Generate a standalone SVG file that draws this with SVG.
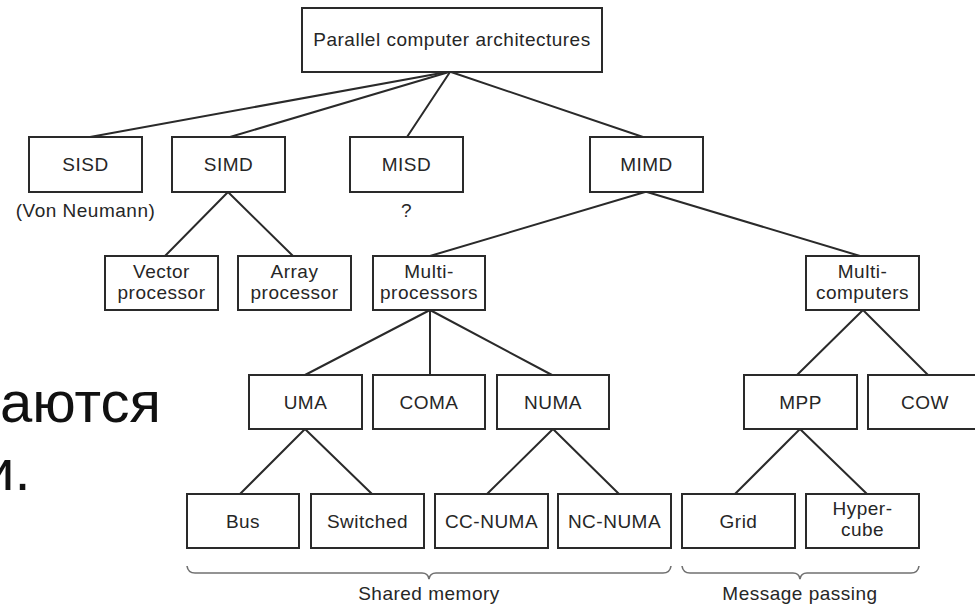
<svg xmlns="http://www.w3.org/2000/svg" width="975" height="606" viewBox="0 0 975 606">
  <style>
    .box { fill: #ffffff; stroke: #2a2a2a; stroke-width: 2; }
    .lbl { font-family: "Liberation Sans", Arial, sans-serif; font-size: 19px; letter-spacing: 0.5px; fill: #262626; text-anchor: middle; }
    .edge { stroke: #2a2a2a; stroke-width: 2; fill: none; stroke-linecap: round; }
    .brace { stroke: #707070; stroke-width: 1.6; fill: none; }
    .slide { font-family: "Liberation Sans", Arial, sans-serif; font-size: 58px; fill: #111111; }
  </style>

  <rect x="0" y="0" width="975" height="606" fill="#ffffff"/>

  <!-- slide text partly hidden behind the figure -->
  <text class="slide" x="0" y="422">аются</text>
  <text class="slide" x="-18" y="490">и.</text>

  <!-- connectors -->
  <g id="connectors">
    <line class="edge" x1="447" y1="72" x2="90" y2="137"/>
    <line class="edge" x1="449" y1="72" x2="230" y2="137"/>
    <line class="edge" x1="450" y1="72" x2="407" y2="137"/>
    <line class="edge" x1="451" y1="72" x2="643" y2="137"/>
    <line class="edge" x1="228" y1="192" x2="165" y2="256"/>
    <line class="edge" x1="228" y1="192" x2="293" y2="256"/>
    <line class="edge" x1="645" y1="192" x2="430" y2="256"/>
    <line class="edge" x1="647" y1="192" x2="860" y2="256"/>
    <line class="edge" x1="430" y1="310" x2="305" y2="375"/>
    <line class="edge" x1="430" y1="310" x2="430" y2="375"/>
    <line class="edge" x1="430" y1="310" x2="552" y2="375"/>
    <line class="edge" x1="863" y1="310" x2="797" y2="375"/>
    <line class="edge" x1="863" y1="310" x2="928" y2="375"/>
    <line class="edge" x1="305" y1="429" x2="240" y2="494"/>
    <line class="edge" x1="305" y1="429" x2="372" y2="494"/>
    <line class="edge" x1="553" y1="429" x2="487" y2="494"/>
    <line class="edge" x1="553" y1="429" x2="619" y2="494"/>
    <line class="edge" x1="800" y1="429" x2="735" y2="494"/>
    <line class="edge" x1="800" y1="429" x2="867" y2="494"/>
  </g>

  <!-- nodes -->
  <g id="root">
    <rect class="box" x="302" y="8" width="300" height="64"/>
    <text class="lbl" x="452" y="46">Parallel computer architectures</text>
  </g>

  <g id="sisd">
    <rect class="box" x="29" y="137" width="113" height="55"/>
    <text class="lbl" x="85.5" y="171">SISD</text>
    <text class="lbl" x="85.5" y="217">(Von Neumann)</text>
  </g>
  <g id="simd">
    <rect class="box" x="172" y="137" width="113" height="55"/>
    <text class="lbl" x="228.5" y="171">SIMD</text>
  </g>
  <g id="misd">
    <rect class="box" x="350" y="137" width="113" height="55"/>
    <text class="lbl" x="406.5" y="171">MISD</text>
    <text class="lbl" x="406.5" y="217">?</text>
  </g>
  <g id="mimd">
    <rect class="box" x="590" y="137" width="113" height="55"/>
    <text class="lbl" x="646.5" y="171">MIMD</text>
  </g>

  <g id="vector-processor">
    <rect class="box" x="105" y="256" width="113" height="54"/>
    <text class="lbl" x="161.5" y="278">Vector</text>
    <text class="lbl" x="161.5" y="299">processor</text>
  </g>
  <g id="array-processor">
    <rect class="box" x="238" y="256" width="113" height="54"/>
    <text class="lbl" x="294.5" y="278">Array</text>
    <text class="lbl" x="294.5" y="299">processor</text>
  </g>
  <g id="multiprocessors">
    <rect class="box" x="373" y="256" width="112" height="54"/>
    <text class="lbl" x="429" y="278">Multi-</text>
    <text class="lbl" x="429" y="299">processors</text>
  </g>
  <g id="multicomputers">
    <rect class="box" x="806" y="256" width="113" height="54"/>
    <text class="lbl" x="862.5" y="278">Multi-</text>
    <text class="lbl" x="862.5" y="299">computers</text>
  </g>

  <g id="uma">
    <rect class="box" x="249" y="375" width="113" height="54"/>
    <text class="lbl" x="305.5" y="409">UMA</text>
  </g>
  <g id="coma">
    <rect class="box" x="373" y="375" width="112" height="54"/>
    <text class="lbl" x="429" y="409">COMA</text>
  </g>
  <g id="numa">
    <rect class="box" x="497" y="375" width="112" height="54"/>
    <text class="lbl" x="553" y="409">NUMA</text>
  </g>
  <g id="mpp">
    <rect class="box" x="744" y="375" width="113" height="54"/>
    <text class="lbl" x="800.5" y="409">MPP</text>
  </g>
  <g id="cow">
    <rect class="box" x="868" y="375" width="113" height="54"/>
    <text class="lbl" x="925" y="409">COW</text>
  </g>

  <g id="bus">
    <rect class="box" x="187" y="494" width="112" height="54"/>
    <text class="lbl" x="243" y="528">Bus</text>
  </g>
  <g id="switched">
    <rect class="box" x="311" y="494" width="113" height="54"/>
    <text class="lbl" x="367.5" y="528">Switched</text>
  </g>
  <g id="cc-numa">
    <rect class="box" x="435" y="494" width="113" height="54"/>
    <text class="lbl" x="491.5" y="528">CC-NUMA</text>
  </g>
  <g id="nc-numa">
    <rect class="box" x="558" y="494" width="113" height="54"/>
    <text class="lbl" x="614.5" y="528">NC-NUMA</text>
  </g>
  <g id="grid">
    <rect class="box" x="682" y="494" width="113" height="54"/>
    <text class="lbl" x="738.5" y="528">Grid</text>
  </g>
  <g id="hypercube">
    <rect class="box" x="806" y="494" width="113" height="54"/>
    <text class="lbl" x="862.5" y="515">Hyper-</text>
    <text class="lbl" x="862.5" y="536">cube</text>
  </g>

  <!-- grouping braces -->
  <g id="shared-memory">
    <path class="brace" d="M187,566 Q188,573 195,573 L422,573 Q428,573 429,579 Q430,573 436,573 L663,573 Q670,573 671,566"/>
    <text class="lbl" x="429" y="600">Shared memory</text>
  </g>
  <g id="message-passing">
    <path class="brace" d="M682,566 Q683,573 690,573 L793,573 Q799,573 800,579 Q801,573 807,573 L911,573 Q918,573 919,566"/>
    <text class="lbl" x="800" y="600">Message passing</text>
  </g>
</svg>
